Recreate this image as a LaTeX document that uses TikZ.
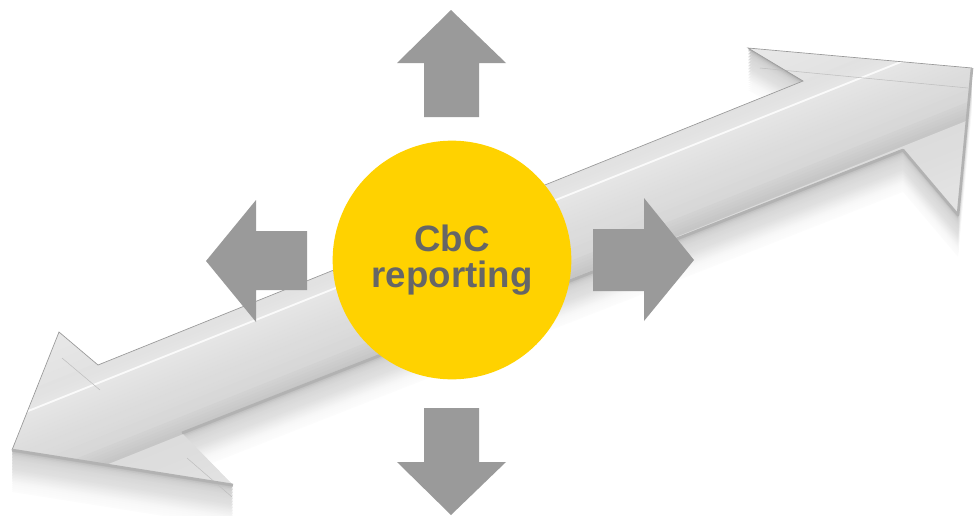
\documentclass[tikz,border=0pt]{standalone}
\usepackage{fontspec}
\setmainfont{Liberation Sans}
\usetikzlibrary{calc}
\definecolor{cyellow}{RGB}{255,210,0}
\definecolor{agray}{RGB}{154,154,154}
\definecolor{tgray}{RGB}{102,102,102}
\newcommand\arrowpath{(12,450) -- (59,332) -- (98,365) -- (803,81) -- (748,48) -- (972,68) -- (958,215) -- (903,150) -- (182,433) -- (233,485) -- cycle}
\newcommand\gradband[5]{%
  \foreach \k in {1,...,#5}{%
    \pgfmathsetmacro\ya{#1+(#2-#1)*(\k-1)/#5}%
    \pgfmathsetmacro\yb{#1+(#2-#1)*\k/#5+0.6}%
    \pgfmathsetmacro\gv{#3+(#4-#3)*(\k-0.5)/#5}%
    \fill[black!\gv] (-80,\ya) rectangle (1150,\yb);}}
\tikzset{
  smallarrow/.style={fill=agray, draw=none},
  centre/.style={circle, fill=cyellow, minimum size=179pt, inner sep=0pt, text=tgray,
    font=\bfseries\fontsize{27.5}{27}\selectfont, align=center},
  topedge/.style={draw=black!40, line width=0.5pt},
  bevel/.style={draw=black!25, line width=0.4pt},
  darkedge/.style={draw=black!30, line width=2pt, line join=round}
}
\begin{document}
\begin{tikzpicture}[x=0.75pt,y=-0.75pt]
\useasboundingbox (0,0) rectangle (975,515);
% soft shadow
\foreach \k/\g in {42/1,40/1.5,38/2,36/2.5,34/3.2}{
  \fill[black!\g, shift={(0,\k)}] \arrowpath;}
% side face (thickness)
\foreach \k/\g in {32/4,30.5/5,29/6,27.5/7,26/8,24.5/9,23/10,21.5/11,20/12,18.5/12.5,17/13,15.5/13.5,14/14,12.5/14.5,11/15,9.5/16,8/17,6.5/18,5/20,3.5/23,2/27,1/31}{
  \fill[black!\g, shift={(0,\k)}] \arrowpath;}
% top face with shading across the shaft
\begin{scope}
  \clip \arrowpath;
  \begin{scope}[shift={(12,452)}, rotate=21.8]
    \gradband{-120}{-51}{8}{11}{8}
    \gradband{-51}{-33}{12}{10}{6}
    \gradband{-33}{-31}{2}{2}{1}
    \gradband{-31}{30}{10}{16}{16}
    \gradband{30}{47}{17}{23}{6}
    \gradband{47}{140}{14}{10}{12}
  \end{scope}
\end{scope}
% bevel lines inside the heads
\draw[bevel] (62,358) -- (100,390);
\draw[bevel] (760,68) -- (968,88);
\draw[bevel] (187,458) -- (232,497);
% edges of the top face
\draw[topedge] (12,450) -- (59,332) -- (98,365) -- (803,81) -- (748,48) -- (972,68);
\draw[darkedge] (12,450) -- (233,485);
\draw[darkedge] (182,433) -- (903,150) -- (958,215) -- (972,68);
% four grey arrows
\fill[smallarrow] (451,10) -- (506,63) -- (479,63) -- (479,117) -- (424,117) -- (424,63) -- (397,63) -- cycle;
\fill[smallarrow] (424,408) -- (479,408) -- (479,462) -- (506,462) -- (451,515) -- (397,462) -- (424,462) -- cycle;
\fill[smallarrow] (206,261) -- (256,200) -- (256,231) -- (307,231) -- (307,290) -- (256,290) -- (256,322) -- cycle;
\fill[smallarrow] (593,229) -- (644,229) -- (644,198) -- (694,260) -- (644,321) -- (644,291) -- (593,291) -- cycle;
% centre circle
\node[centre] (cbc) at (452,260) {CbC\\reporting};
\end{tikzpicture}
\end{document}
